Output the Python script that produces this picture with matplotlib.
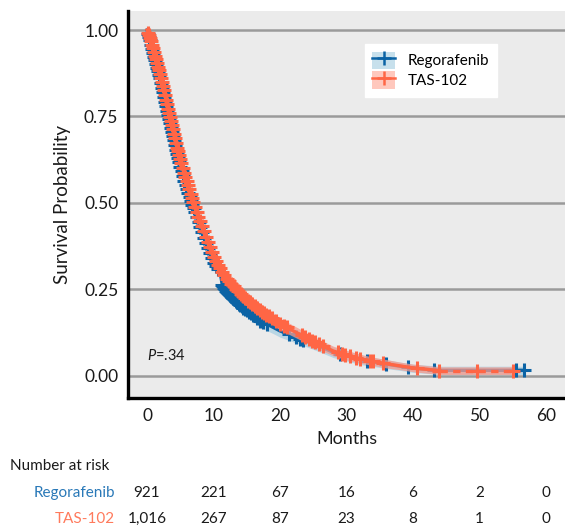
import numpy as np
import matplotlib
matplotlib.use('Agg')
import matplotlib.pyplot as plt
import matplotlib.transforms as mtransforms
from matplotlib.patches import Patch
from matplotlib.lines import Line2D

plt.rcParams['font.family'] = ['Lato', 'DejaVu Sans']
plt.rcParams['mathtext.fontset'] = 'custom'
plt.rcParams['mathtext.it'] = 'Lato:italic'
plt.rcParams['mathtext.rm'] = 'Lato'

BLUE = '#0b63a5'
BLUE_BAND = '#a9cfe2'
BLUE_TXT = '#2a79b8'
ORANGE = '#ff6645'
ORANGE_BAND = '#f79a8c'
ORANGE_TXT = '#ff7a5c'

# Kaplan-Meier estimates (months, survival)
rego_t = [0, 0.5, 1, 1.5, 2, 2.5, 3, 3.5, 4, 4.5, 5, 5.5, 6, 6.5, 7, 7.5, 8,
          8.5, 9, 9.5, 10, 10.5, 11, 11.3, 12, 13, 14, 15, 16, 17, 18, 19, 20,
          22, 24, 26, 28, 30, 32, 34, 36, 38, 40, 42, 44, 56.7]
rego_s = [1.0, 0.97, 0.93, 0.895, 0.86, 0.815, 0.77, 0.73, 0.69, 0.645, 0.605,
          0.57, 0.54, 0.51, 0.485, 0.46, 0.43, 0.405, 0.38, 0.355, 0.33, 0.315,
          0.30, 0.265, 0.245, 0.225, 0.205, 0.19, 0.175, 0.16, 0.15, 0.14, 0.13,
          0.115, 0.10, 0.085, 0.068, 0.058, 0.047, 0.04, 0.034, 0.028, 0.022,
          0.019, 0.016, 0.016]
rego_ci = [0.0, 0.008, 0.012, 0.014, 0.016, 0.017, 0.018, 0.019, 0.02, 0.02,
           0.02, 0.02, 0.02, 0.02, 0.02, 0.02, 0.02, 0.02, 0.02, 0.02, 0.02,
           0.02, 0.02, 0.02, 0.02, 0.02, 0.02, 0.02, 0.02, 0.019, 0.019, 0.018,
           0.018, 0.017, 0.016, 0.016, 0.015, 0.015, 0.014, 0.013, 0.013, 0.012,
           0.012, 0.012, 0.012, 0.012]

tas_t = [0, 0.5, 1, 1.5, 2, 2.5, 3, 3.5, 4, 4.5, 5, 5.5, 6, 6.5, 7, 7.5, 8,
         8.5, 9, 9.5, 10, 10.5, 11, 12, 13, 14, 15, 16, 17, 18, 19, 20, 22, 24,
         26, 28, 30, 32, 34, 36, 38, 40, 42, 44, 55]
tas_s = [1.0, 0.975, 0.94, 0.905, 0.87, 0.83, 0.785, 0.745, 0.705, 0.66, 0.625,
         0.59, 0.56, 0.53, 0.50, 0.47, 0.445, 0.42, 0.395, 0.37, 0.345, 0.325,
         0.31, 0.28, 0.26, 0.24, 0.22, 0.205, 0.19, 0.175, 0.165, 0.15, 0.13,
         0.11, 0.09, 0.072, 0.06, 0.05, 0.042, 0.035, 0.029, 0.023, 0.019,
         0.015, 0.015]
tas_ci = [0.0, 0.007, 0.011, 0.013, 0.015, 0.016, 0.017, 0.018, 0.019, 0.019,
          0.019, 0.019, 0.019, 0.019, 0.019, 0.019, 0.019, 0.019, 0.019, 0.019,
          0.019, 0.019, 0.019, 0.019, 0.019, 0.019, 0.018, 0.018, 0.018, 0.017,
          0.017, 0.017, 0.016, 0.015, 0.015, 0.014, 0.014, 0.013, 0.012, 0.012,
          0.011, 0.011, 0.011, 0.011, 0.011]

# censoring times (months)
rego_cens = [0.2, 0.35, 0.5, 0.65, 0.8, 0.95, 1.1, 1.25, 1.4, 1.55, 1.7, 1.85,
             2.0, 2.15, 2.3, 2.45, 2.6, 2.75, 2.9, 3.05, 3.2, 3.35, 3.5, 3.65,
             3.8, 3.95, 4.1, 4.25, 4.4, 4.55, 4.7, 4.85, 5.0, 5.2, 5.4, 5.6,
             5.8, 6.0, 6.2, 6.4, 6.6, 6.8, 7.0, 7.25, 7.5, 7.75, 8.0, 8.3, 8.6,
             8.9, 9.2, 9.5, 9.8, 10.1, 10.4, 10.7, 11.35, 11.5, 11.65, 11.8,
             11.95, 12.1, 12.25, 12.4, 12.55, 12.7, 12.85, 13.0, 13.2, 13.4,
             13.6, 13.8, 14.0, 14.25, 14.5, 14.75, 15.0, 15.3, 15.6, 16.0,
             16.5, 17.0, 17.5, 18.0, 21.3, 22.4, 23.0, 23.5, 29.0, 33.1, 35.9,
             39.2, 43.2, 55.5, 56.7]
tas_cens = [0.15, 0.3, 0.45, 0.6, 0.75, 0.9, 1.05, 1.2, 1.35, 1.5, 1.65, 1.8,
            1.95, 2.1, 2.25, 2.4, 2.55, 2.7, 2.85, 3.0, 3.15, 3.3, 3.45, 3.6,
            3.75, 3.9, 4.05, 4.2, 4.35, 4.5, 4.65, 4.8, 4.95, 5.15, 5.35,
            5.55, 5.75, 5.95, 6.15, 6.35, 6.55, 6.75, 6.95, 7.2, 7.45, 7.7,
            7.95, 8.25, 8.55, 8.85, 9.15, 9.45, 9.75, 10.05, 10.35, 10.65,
            10.95, 11.3, 11.65, 12.0, 12.35, 12.7, 13.05, 13.4, 13.75, 14.1,
            14.45, 14.8, 15.15, 15.5, 15.85, 16.2, 16.6, 17.0, 17.3, 17.6,
            17.9, 18.3, 18.8, 19.4, 20.0, 20.6, 21.0, 23.3, 23.8, 24.3, 24.8,
            25.3, 25.9, 26.5, 28.7, 29.3, 29.8, 30.6, 31.5, 32.1, 33.6, 34.0,
            35.5, 40.6, 43.9, 49.6, 55.0]

risk_times = [0, 10, 20, 30, 40, 50, 60]
rego_risk = ['921', '221', '67', '16', '6', '2', '0']
tas_risk = ['1,016', '267', '87', '23', '8', '1', '0']

fig = plt.figure(figsize=(5.65, 5.29), dpi=100)
ax = fig.add_axes([128 / 565, 1 - 398 / 529, 1 - 128 / 565, 387 / 529])
ax.set_facecolor('#ebebeb')


def draw_arm(t, s, ci, cens, line_c, band_c, z, dashed_tail=False):
    t = np.asarray(t)
    s = np.asarray(s)
    ci = np.asarray(ci)
    ax.fill_between(t, s - ci, s + ci, color=band_c, alpha=0.75, lw=0,
                    zorder=z)
    if dashed_tail:
        # flat tail after the last event is drawn dashed, as in the source
        ax.plot(t[:-1], s[:-1], color=line_c, lw=2.4, zorder=z + 1)
        ax.plot(t[-2:], s[-2:], color=line_c, lw=2.4, ls=(0, (2.2, 1.6)),
                zorder=z + 1)
    else:
        ax.plot(t, s, color=line_c, lw=2.4, zorder=z + 1)
    cy = np.interp(cens, t, s)
    ax.plot(cens, cy, ls='none', marker='+', ms=10, mew=2.2, color=line_c,
            zorder=z + 1)


draw_arm(rego_t, rego_s, rego_ci, rego_cens, BLUE, BLUE_BAND, 2)
draw_arm(tas_t, tas_s, tas_ci, tas_cens, ORANGE, ORANGE_BAND, 4,
         dashed_tail=True)

ax.set_xlim(-2.86, 62.86)
ax.set_ylim(-0.064, 1.055)
ax.set_xticks(risk_times)
ax.set_yticks([0, 0.25, 0.5, 0.75, 1.0])
ax.set_yticklabels(['0.00', '0.25', '0.50', '0.75', '1.00'])
ax.yaxis.grid(True, color='#9a9a9a', lw=1.8, zorder=1)
ax.set_axisbelow(True)
ax.tick_params(length=0, labelsize=12.5, pad=7, colors='#1a1a1a')
for sp in ['top', 'right']:
    ax.spines[sp].set_visible(False)
for sp in ['left', 'bottom']:
    ax.spines[sp].set_linewidth(2.4)
    ax.spines[sp].set_color('black')
ax.set_xlabel('Months', fontsize=13, labelpad=5, color='#1a1a1a')
ax.set_ylabel('Survival Probability', fontsize=13.5, labelpad=9,
              color='#1a1a1a')

ax.text(0.0, 0.058, r'$P$=.34', fontsize=10.5, ha='left', va='center',
        color='#1a1a1a')

handles = [
    (Patch(facecolor='#c7e0ec', edgecolor='none'),
     Line2D([], [], color=BLUE, lw=1.8, marker='+', ms=10, mew=1.8)),
    (Patch(facecolor='#ffc8bd', edgecolor='none'),
     Line2D([], [], color=ORANGE, lw=1.8, marker='+', ms=10, mew=1.8)),
]
leg = ax.legend(handles, ['Regorafenib', 'TAS-102'], loc='upper left',
                bbox_to_anchor=(0.542, 0.915), frameon=True, fancybox=False,
                fontsize=11, handlelength=1.5, handleheight=1.4,
                borderpad=0.5, labelspacing=0.15, handletextpad=0.8,
                borderaxespad=0)
leg.get_frame().set_facecolor('white')
leg.get_frame().set_edgecolor('white')
leg.get_frame().set_alpha(1)

# number at risk table
trans = mtransforms.blended_transform_factory(ax.transData, fig.transFigure)
fig.text(10 / 565, 1 - 466 / 529, 'Number at risk', fontsize=11,
         ha='left', va='center', color='#1a1a1a')
fig.text(115 / 565, 1 - 493 / 529, 'Regorafenib', fontsize=11,
         ha='right', va='center', color=BLUE_TXT)
fig.text(115 / 565, 1 - 519 / 529, 'TAS-102', fontsize=11,
         ha='right', va='center', color=ORANGE_TXT)
for x, a, b in zip(risk_times, rego_risk, tas_risk):
    ax.text(x, 1 - 493 / 529, a, transform=trans, fontsize=11,
            ha='center', va='center', color='#1a1a1a', clip_on=False)
    ax.text(x, 1 - 519 / 529, b, transform=trans, fontsize=11,
            ha='center', va='center', color='#1a1a1a', clip_on=False)

fig.savefig('out.png', dpi=100)
